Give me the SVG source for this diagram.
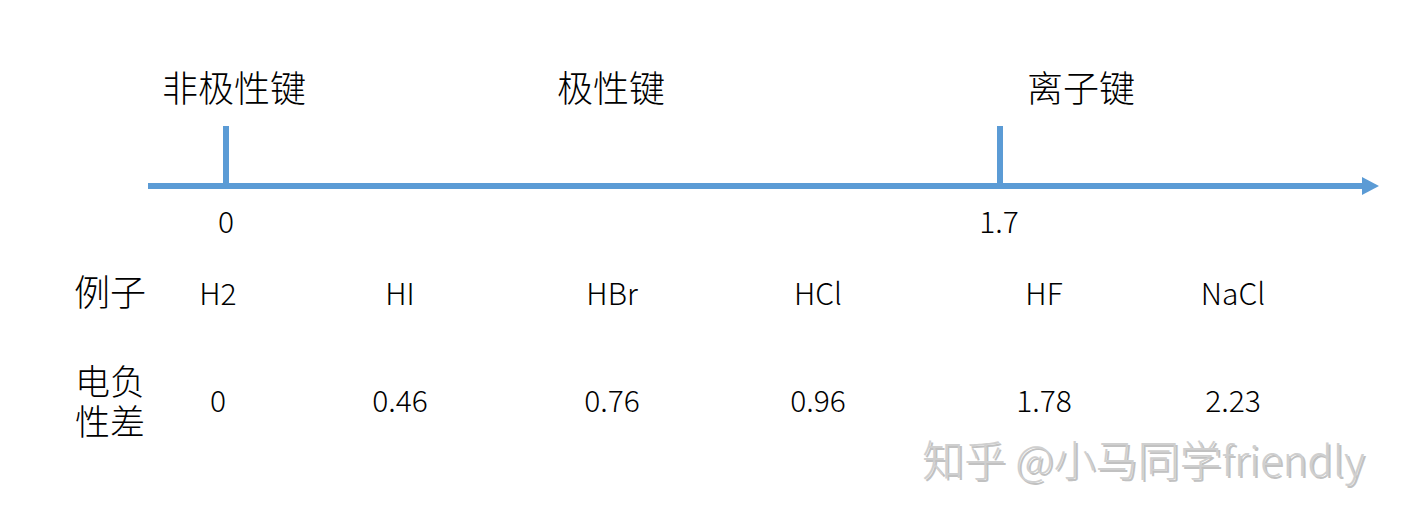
<svg xmlns="http://www.w3.org/2000/svg" width="1401" height="523" viewBox="0 0 1401 523">
<style>
  .t { font-family: "Noto Sans CJK SC", "Noto Sans", sans-serif; fill: #000; text-anchor: middle; }
  .cn { font-size: 36px; font-weight: 300; }
  .cn2 { font-size: 35px; font-weight: 300; }
  .num { font-size: 30px; font-weight: 300; }
  .wm { font-family: "Noto Sans CJK SC", sans-serif; font-size: 42px; font-weight: 300; }
  .ax { stroke: #5B9BD5; stroke-width: 6; fill: none; }
</style>
<defs>
  <marker id="arr" markerUnits="userSpaceOnUse" markerWidth="20" markerHeight="20" refX="0" refY="9" orient="auto">
    <path d="M0,0 L17,9 L0,18 Z" fill="#5B9BD5"/>
  </marker>
</defs>
<rect width="1401" height="523" fill="#fff"/>
<g id="connectors">
  <line class="ax" x1="148" y1="186" x2="1362" y2="186" marker-end="url(#arr)"/>
  <line class="ax" x1="226" y1="126" x2="226" y2="186"/>
  <line class="ax" x1="1000" y1="126" x2="1000" y2="186"/>
</g>
<g id="labels-top">
  <text class="t cn" x="234" y="102">非极性键</text>
  <text class="t cn" x="611" y="102">极性键</text>
  <text class="t cn" x="1081" y="102">离子键</text>
</g>
<g id="ticks">
  <text class="t num" x="226" y="233">0</text>
  <text class="t num" x="999" y="233">1.7</text>
</g>
<g id="row-examples">
  <text class="t cn" x="110" y="306">例子</text>
  <text class="t num" x="218" y="305">H2</text>
  <text class="t num" x="400" y="305">HI</text>
  <text class="t num" x="612" y="305">HBr</text>
  <text class="t num" x="818" y="305">HCl</text>
  <text class="t num" x="1044" y="305">HF</text>
  <text class="t num" x="1233" y="305">NaCl</text>
</g>
<g id="row-en">
  <text class="t cn2" x="110" y="395"><tspan x="110" y="395">电负</tspan><tspan x="110" y="435">性差</tspan></text>
  <text class="t num" x="218" y="412">0</text>
  <text class="t num" x="400" y="412">0.46</text>
  <text class="t num" x="612" y="412">0.76</text>
  <text class="t num" x="818" y="412">0.96</text>
  <text class="t num" x="1044" y="412">1.78</text>
  <text class="t num" x="1233" y="412">2.23</text>
</g>
<g id="watermark">
  <text class="wm" x="924" y="478" fill="#999" opacity="0.6">知乎 @小马同学friendly</text>
  <text class="wm" x="922" y="476" fill="#cfcfcf">知乎 @小马同学friendly</text>
</g>
</svg>
